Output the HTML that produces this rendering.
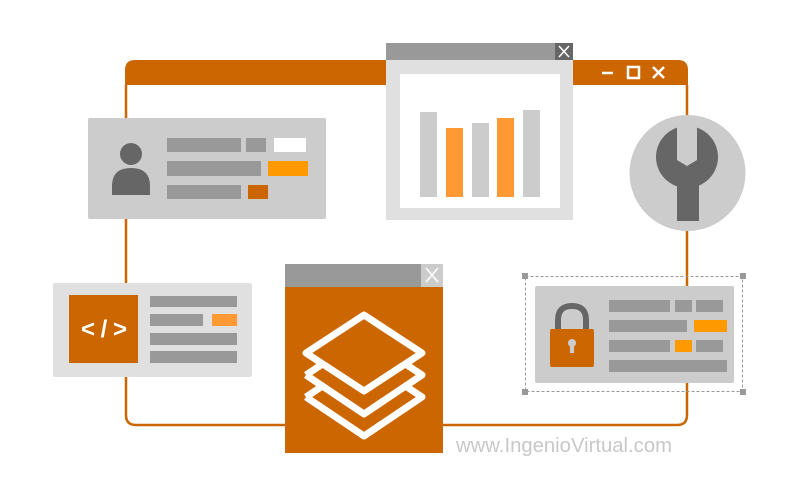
<!DOCTYPE html>
<html><head><meta charset="utf-8"><style>html,body{margin:0;padding:0;background:#fff}svg{display:block}</style></head>
<body>
<svg width="800" height="500" viewBox="0 0 800 500" xmlns="http://www.w3.org/2000/svg">
<!-- main frame -->
<path d="M126 85 V415 Q126 425 136 425 H677 Q687 425 687 415 V85" fill="none" stroke="#CC6600" stroke-width="2.5"/>
<path d="M125 85 V70 Q125 60 135 60 H678 Q688 60 688 70 V85 Z" fill="#CC6600"/>
<g stroke="#fff" stroke-width="2.5" fill="none">
<line x1="602" y1="73" x2="613" y2="73"/>
<rect x="628" y="67" width="11" height="11"/>
<line x1="653" y1="67" x2="664" y2="78"/><line x1="664" y1="67" x2="653" y2="78"/>
</g>
<!-- profile card -->
<rect x="88" y="118" width="238" height="101" rx="2" fill="#cccccc"/>
<circle cx="131" cy="154" r="11" fill="#666"/>
<path d="M112 195 V186 Q112 168 131 168 Q150 168 150 186 V195 Z" fill="#666"/>
<rect x="167" y="138" width="74" height="14" fill="#999"/>
<rect x="246" y="138" width="20" height="14" fill="#999"/>
<rect x="274" y="138" width="32" height="14" fill="#fff"/>
<rect x="167" y="161" width="94" height="15" fill="#999"/>
<rect x="268" y="161" width="40" height="15" fill="#FF9900"/>
<rect x="167" y="185" width="74" height="14" fill="#999"/>
<rect x="248" y="185" width="20" height="14" fill="#CC6600"/>
<!-- chart window -->
<rect x="386" y="43" width="187" height="17" fill="#999"/>
<rect x="555" y="43" width="18" height="17" fill="#666"/>
<g stroke="#fff" stroke-width="1.5"><line x1="559" y1="46" x2="569" y2="57"/><line x1="569" y1="46" x2="559" y2="57"/></g>
<rect x="386" y="60" width="187" height="160" fill="#e0e0e0"/>
<rect x="400" y="74" width="160" height="134" fill="#fff"/>
<rect x="420" y="112" width="17" height="85" fill="#ccc"/>
<rect x="446" y="128" width="17" height="69" fill="#FF9933"/>
<rect x="472" y="123" width="17" height="74" fill="#ccc"/>
<rect x="497" y="118" width="17" height="79" fill="#FF9933"/>
<rect x="523" y="110" width="17" height="87" fill="#ccc"/>
<!-- wrench -->
<circle cx="687.5" cy="173" r="58" fill="#ccc"/>
<circle cx="687" cy="157" r="31" fill="#666"/>
<rect x="677" y="180" width="22" height="41" fill="#666"/>
<polygon points="677,120 697,120 697,160 687,166 677,160" fill="#ccc"/>
<!-- code card -->
<rect x="53" y="283" width="199" height="94" rx="2" fill="#e0e0e0"/>
<rect x="69" y="295" width="69" height="68" fill="#CC6600"/>
<text x="104" y="337" fill="#fff" font-family="Liberation Sans, sans-serif" font-weight="bold" font-size="24" text-anchor="middle" textLength="46" lengthAdjust="spacing">&lt;/&gt;</text>
<rect x="150" y="296" width="87" height="11" fill="#999"/>
<rect x="150" y="314" width="53" height="12" fill="#999"/>
<rect x="212" y="314" width="25" height="12" fill="#FF9933"/>
<rect x="150" y="333" width="87" height="12" fill="#999"/>
<rect x="150" y="351" width="87" height="12" fill="#999"/>
<!-- layers window -->
<rect x="285" y="264" width="158" height="23" fill="#999"/>
<rect x="421" y="264" width="22" height="23" fill="#ccc"/>
<g stroke="#fff" stroke-width="1.5"><line x1="426" y1="268" x2="438" y2="282"/><line x1="438" y1="268" x2="426" y2="282"/></g>
<rect x="285" y="287" width="158" height="166" fill="#CC6600"/>
<g fill="none" stroke="#fff" stroke-width="7" stroke-linejoin="round">
<path d="M306 397 L364 436 L422 397 L407 387"/>
<path d="M321 387 L306 397"/>
<path d="M306 375 L364 414 L422 375 L407 365"/>
<path d="M321 365 L306 375"/>
<polygon points="364,315 422,353 364,391 306,353" fill="#CC6600"/>
</g>
<!-- lock card -->
<rect x="525.5" y="276.5" width="217" height="115" fill="none" stroke="#999" stroke-width="1" stroke-dasharray="3,2"/>
<rect x="522" y="273" width="6" height="6" fill="#999"/><rect x="740" y="273" width="6" height="6" fill="#999"/>
<rect x="522" y="389" width="6" height="6" fill="#999"/><rect x="740" y="389" width="6" height="6" fill="#999"/>
<rect x="535" y="286" width="199" height="97" rx="2" fill="#ccc"/>
<path d="M558 330 V320 Q558 306 572 306 Q586 306 586 320 V330" fill="none" stroke="#666" stroke-width="6"/>
<rect x="550" y="329" width="44" height="38" rx="2" fill="#CC6600"/>
<circle cx="572" cy="343" r="4" fill="#ccc"/>
<rect x="570" y="344" width="4" height="9" fill="#ccc"/>
<rect x="609" y="300" width="61" height="12" fill="#999"/>
<rect x="675" y="300" width="17" height="12" fill="#999"/>
<rect x="696" y="300" width="27" height="12" fill="#999"/>
<rect x="609" y="320" width="78" height="12" fill="#999"/>
<rect x="694" y="320" width="33" height="12" fill="#FF9900"/>
<rect x="609" y="340" width="61" height="12" fill="#999"/>
<rect x="675" y="340" width="17" height="12" fill="#FF9900"/>
<rect x="696" y="340" width="27" height="12" fill="#999"/>
<rect x="609" y="360" width="118" height="12" fill="#999"/>
<text x="456" y="452" fill="#c8c8c8" font-family="Liberation Sans, sans-serif" font-size="20" textLength="216" lengthAdjust="spacingAndGlyphs">www.IngenioVirtual.com</text>
</svg>
</body></html>
